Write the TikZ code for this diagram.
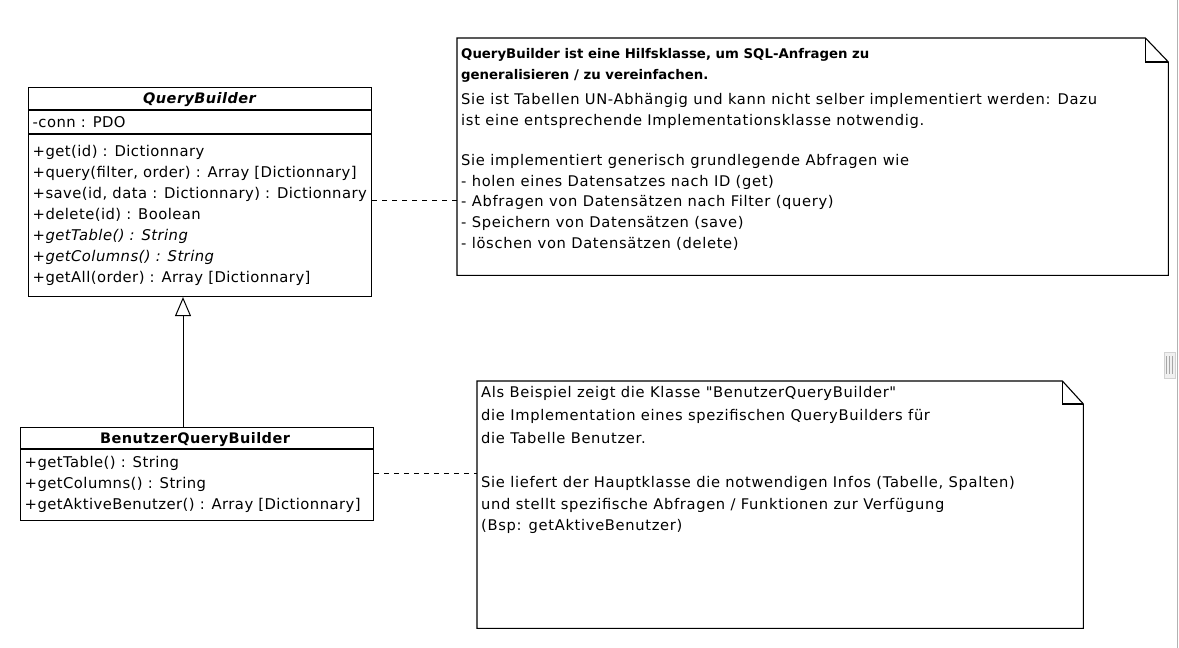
\documentclass[tikz,border=0pt]{standalone}
\usepackage{fontspec}
\setmainfont{DejaVu Sans}[LetterSpace=3]
\newfontfamily\notefont{DejaVu Sans}[LetterSpace=4.5]
\newfontfamily\noteboldfont{DejaVu Sans}
\usetikzlibrary{arrows.meta}
\tikzset{
  box/.style={draw, line width=1.1pt, anchor=north west, inner sep=0pt},
  mem/.style={anchor=base west, inner sep=0pt, font=\fontsize{14.8}{17}\selectfont},
  ttl/.style={anchor=base, inner sep=0pt, font=\fontsize{14.5}{17}\selectfont\bfseries},
  nt/.style={anchor=base west, inner sep=0pt, font=\notefont\fontsize{14.7}{17}\selectfont},
  ntb/.style={nt, font=\noteboldfont\fontsize{13.3}{16}\selectfont\bfseries},
  sepline/.style={line width=1.1pt},
  noteline/.style={line width=1.1pt, line join=miter},
  link/.style={dash pattern=on 5pt off 5pt, line width=0.9pt},
  inherit/.style={line width=1pt, -{Triangle[open, length=19pt, width=16pt, line width=1pt]}}
}
\begin{document}
\begin{tikzpicture}[x=1pt,y=-1pt]
\useasboundingbox (0,0) rectangle (1179,648);

% QueryBuilder class
\node[box, minimum width=343pt, minimum height=209pt] (qb) at (28,87) {};
\draw[sepline] (qb.west |- 0,110) -- (qb.east |- 0,110);
\draw[sepline] (qb.west |- 0,134) -- (qb.east |- 0,134);
\node[ttl, font=\fontsize{14.5}{17}\selectfont\bfseries\itshape] (qbt) at (199.5,103.5) {QueryBuilder};
\node[mem] (qa1) at (32.5,127) {-conn : PDO};
\node[mem] (qm1) at (32.5,156) {+get(id) : Dictionnary};
\node[mem] (qm2) at (32.5,177) {+query(filter, order) : Array [Dictionnary]};
\node[mem] (qm3) at (32.5,198) {+save(id, data : Dictionnary) : Dictionnary};
\node[mem] (qm4) at (32.5,219) {+delete(id) : Boolean};
\node[mem, font=\fontsize{14.8}{17}\selectfont\itshape] (qm5) at (32.5,240) {+getTable() : String};
\node[mem, font=\fontsize{14.8}{17}\selectfont\itshape] (qm6) at (32.5,261) {+getColumns() : String};
\node[mem] (qm7) at (32.5,282) {+getAll(order) : Array [Dictionnary]};

% BenutzerQueryBuilder class
\node[box, minimum width=353pt, minimum height=93pt] (bqb) at (20,427) {};
\draw[sepline] (bqb.west |- 0,449) -- (bqb.east |- 0,449);
\node[ttl] (bqt) at (195,443) {BenutzerQueryBuilder};
\node[mem] (bm1) at (24.5,467) {+getTable() : String};
\node[mem] (bm2) at (24.5,488) {+getColumns() : String};
\node[mem] (bm3) at (24.5,509) {+getAktiveBenutzer() : Array [Dictionnary]};

% inheritance
\draw[inherit] (bqb.north -| 183,0) -- (qb.south -| 183,0);

% Note 1
\node[anchor=north west, minimum width=711pt, minimum height=237pt, inner sep=0pt] (n1) at (457,38) {};
\draw[noteline] (n1.north west) -- ([xshift=-23pt]n1.north east) -- ([yshift=-24pt]n1.north east) -- (n1.south east) -- (n1.south west) -- cycle;
\draw[noteline] ([xshift=-23pt]n1.north east) -- ([xshift=-23pt,yshift=-24pt]n1.north east) -- ([yshift=-24pt]n1.north east);
\node[ntb] (n1l1) at (461,58) {QueryBuilder ist eine Hilfsklasse, um SQL-Anfragen zu};
\node[ntb] (n1l2) at (461,79.5) {generalisieren / zu vereinfachen.};
\node[nt] (n1l3) at (461,104.5) {Sie ist Tabellen UN-Abhängig und kann nicht selber implementiert werden: Dazu};
\node[nt] (n1l4) at (461,125) {ist eine entsprechende Implementationsklasse notwendig.};
\node[nt] (n1l5) at (461,165) {Sie implementiert generisch grundlegende Abfragen wie};
\node[nt] (n1l6) at (461,186) {- holen eines Datensatzes nach ID (get)};
\node[nt] (n1l7) at (461,206.5) {- Abfragen von Datensätzen nach Filter (query)};
\node[nt] (n1l8) at (461,227.5) {- Speichern von Datensätzen (save)};
\node[nt] (n1l9) at (461,248.5) {- löschen von Datensätzen (delete)};

% Note 2
\node[anchor=north west, minimum width=606pt, minimum height=247pt, inner sep=0pt] (n2) at (477,381) {};
\draw[noteline] (n2.north west) -- ([xshift=-21pt]n2.north east) -- ([yshift=-23pt]n2.north east) -- (n2.south east) -- (n2.south west) -- cycle;
\draw[noteline] ([xshift=-21pt]n2.north east) -- ([xshift=-21pt,yshift=-23pt]n2.north east) -- ([yshift=-23pt]n2.north east);
\node[nt] (n2l1) at (481,397) {Als Beispiel zeigt die Klasse "BenutzerQueryBuilder"};
\node[nt] (n2l2) at (481,420) {die Implementation eines spezifischen QueryBuilders für};
\node[nt] (n2l3) at (481,443.5) {die Tabelle Benutzer.};
\node[nt] (n2l4) at (481,487.5) {Sie liefert der Hauptklasse die notwendigen Infos (Tabelle, Spalten)};
\node[nt] (n2l5) at (481,509.5) {und stellt spezifische Abfragen / Funktionen zur Verfügung};
\node[nt] (n2l6) at (481,530.5) {(Bsp: getAktiveBenutzer)};

% note links
\draw[link] (qb.east |- 0,200) -- (n1.west |- 0,200);
\draw[link] (bqb.east |- 0,473) -- (n2.west |- 0,473);

% window edge
\draw[gray!60, line width=1.5pt] (1177.5,0) -- (1177.5,648);
\node[draw=gray!35, fill=gray!12, minimum width=11pt, minimum height=26pt, inner sep=0pt] (grip) at (1169.5,365) {};
\foreach \gx in {-3,0,3} \draw[gray!70, line width=0.9pt] ([xshift=\gx pt, yshift=9pt]grip.center) -- ([xshift=\gx pt, yshift=-9pt]grip.center);
\end{tikzpicture}
\end{document}
